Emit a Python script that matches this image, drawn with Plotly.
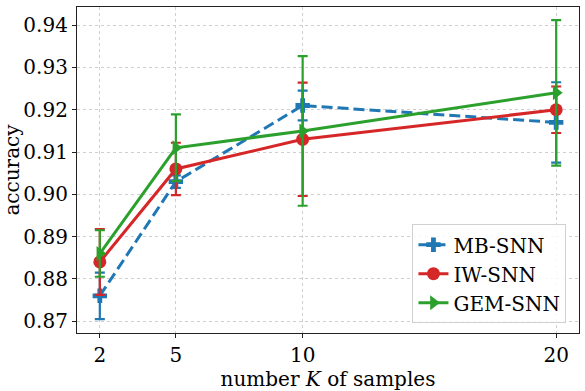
import plotly.graph_objects as go

K = [2, 5, 10, 20]
mb_acc = [0.876, 0.903, 0.921, 0.917]
mb_err = [0.0055, 0.0015, 0.0035, 0.0095]
iw_acc = [0.884, 0.906, 0.913, 0.920]
iw_err = [0.0078, 0.0062, 0.0134, 0.0055]
gem_acc = [0.886, 0.911, 0.915, 0.924]
gem_err = [0.0055, 0.0079, 0.0177, 0.0172]
x_ticks = [2, 5, 10, 20]
y_ticks = [0.87, 0.88, 0.89, 0.90, 0.91, 0.92, 0.93, 0.94]

BLUE, RED, GREEN = "#1f77b4", "#d62728", "#2ca02c"
FONT = "DejaVu Serif, serif"
TF = dict(family=FONT, size=20, color="black")

fig = go.Figure()
series = [
    ("MB-SNN", mb_acc, mb_err, BLUE, "11px,5px", "cross", 12),
    ("IW-SNN", iw_acc, iw_err, RED, "solid", "circle", 13),
    ("GEM-SNN", gem_acc, gem_err, GREEN, "solid", "triangle-right", 13),
]
for name, y, e, c, dash, sym, ms in series:
    fig.add_trace(go.Scatter(
        x=K, y=y, name=name, mode="lines+markers",
        line=dict(color=c, width=3, dash=dash),
        marker=dict(symbol=sym, size=ms, color=c, line=dict(width=0)),
        error_y=dict(type="data", array=e, visible=True, color=c, thickness=2.2, width=5),
    ))

fig.update_layout(
    width=585, height=391,
    margin=dict(l=77, r=6, t=7, b=58, autoexpand=False),
    paper_bgcolor="white", plot_bgcolor="white",
    font=TF,
    showlegend=True,
    legend=dict(
        x=0.975, y=0.03, xanchor="right", yanchor="bottom",
        bgcolor="rgba(255,255,255,0.85)", bordercolor="#d0d0d0", borderwidth=1,
        font=TF, tracegroupgap=0, itemwidth=30,
    ),
)
fig.update_xaxes(
    range=[1.1, 20.9], tickvals=x_ticks, ticktext=[str(v) for v in x_ticks],
    tickfont=TF, automargin=False,
    showgrid=True, gridcolor="#cfcfcf", griddash="dot", gridwidth=0.8,
    showline=True, linecolor="#222", linewidth=1.2, mirror=True,
    ticks="outside", ticklen=4, tickcolor="#222", zeroline=False,
    title=dict(text="number <i>K</i> of samples", font=TF, standoff=0),
)
fig.update_yaxes(
    range=[0.8672, 0.9443], tickvals=y_ticks, ticktext=[f"{v:.2f}" for v in y_ticks],
    tickfont=TF, automargin=False,
    showgrid=True, gridcolor="#cfcfcf", griddash="dot", gridwidth=0.8,
    showline=True, linecolor="#222", linewidth=1.2, mirror=True,
    ticks="outside", ticklen=4, tickcolor="#222", zeroline=False,
    title=dict(text="accuracy", font=TF, standoff=6),
)

fig.write_html(
    "out.html",
    config={"displayModeBar": False},
    post_script="document.body.style.margin='0';document.body.style.overflow='hidden';",
)
